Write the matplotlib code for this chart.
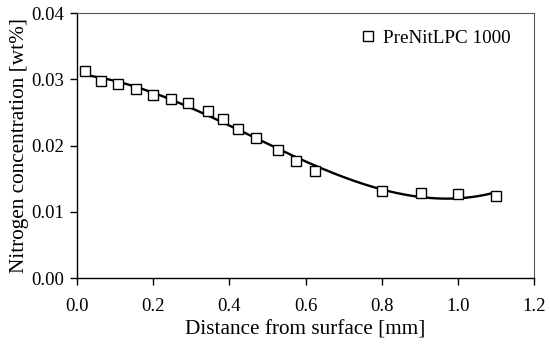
import numpy as np
import matplotlib
matplotlib.use('Agg')
import matplotlib.pyplot as plt

# ── DATA ──────────────────────────────────────────────────────────────────────
dist_mm = [0.02, 0.063, 0.108, 0.155, 0.20, 0.246, 0.292, 0.343, 0.384, 0.424,
           0.471, 0.527, 0.576, 0.626, 0.800, 0.903, 1.001, 1.100]
n_wt    = [0.0313, 0.0297, 0.0293, 0.0285, 0.0277, 0.0270, 0.0264, 0.0252, 0.0240,
           0.0225, 0.0211, 0.0193, 0.0177, 0.0162, 0.0132, 0.0128, 0.0127, 0.0124]
label   = 'PreNitLPC 1000'

plt.rcParams['font.family'] = ['Liberation Serif', 'DejaVu Serif']

# trend line: cubic polynomial fit through the measured points
coef  = np.polyfit(dist_mm, n_wt, 3)
x_fit = np.linspace(min(dist_mm), max(dist_mm), 200)
y_fit = np.polyval(coef, x_fit)

fig = plt.figure(figsize=(5.5, 3.45), dpi=100)
ax = fig.add_axes([0.14, 0.194, 0.831, 0.768])

ax.plot(x_fit, y_fit, color='black', lw=1.7, zorder=2)
ax.plot(dist_mm, n_wt, ls='none', marker='s', ms=6.5, mfc='white', mec='black',
        mew=1.0, label=label, zorder=3)

ax.set_xlim(0, 1.2)
ax.set_ylim(0, 0.04)
ax.set_xticks(np.arange(0, 1.21, 0.2))
ax.set_yticks(np.arange(0, 0.041, 0.01))
ax.xaxis.set_major_formatter(matplotlib.ticker.FormatStrFormatter('%.1f'))
ax.yaxis.set_major_formatter(matplotlib.ticker.FormatStrFormatter('%.2f'))
ax.tick_params(direction='out', length=5, width=1, labelsize=13.5, colors='black')
ax.tick_params(axis='x', pad=9)
ax.tick_params(axis='y', pad=4)
for s in ax.spines.values():
    s.set_linewidth(0.8)
    s.set_color('#555555')
ax.spines['left'].set_color('black')
ax.spines['bottom'].set_color('black')
ax.spines['left'].set_linewidth(1.0)
ax.spines['bottom'].set_linewidth(1.0)

ax.set_xlabel('Distance from surface [mm]', fontsize=15.3, labelpad=4)
ax.set_ylabel('Nitrogen concentration [wt%]', fontsize=15.3, labelpad=2)
ax.legend(loc='upper right', bbox_to_anchor=(0.982, 0.995), frameon=False,
          fontsize=13.8, handletextpad=0.3, borderaxespad=0.4, handlelength=1.0)

fig.savefig('out.png', dpi=100)
